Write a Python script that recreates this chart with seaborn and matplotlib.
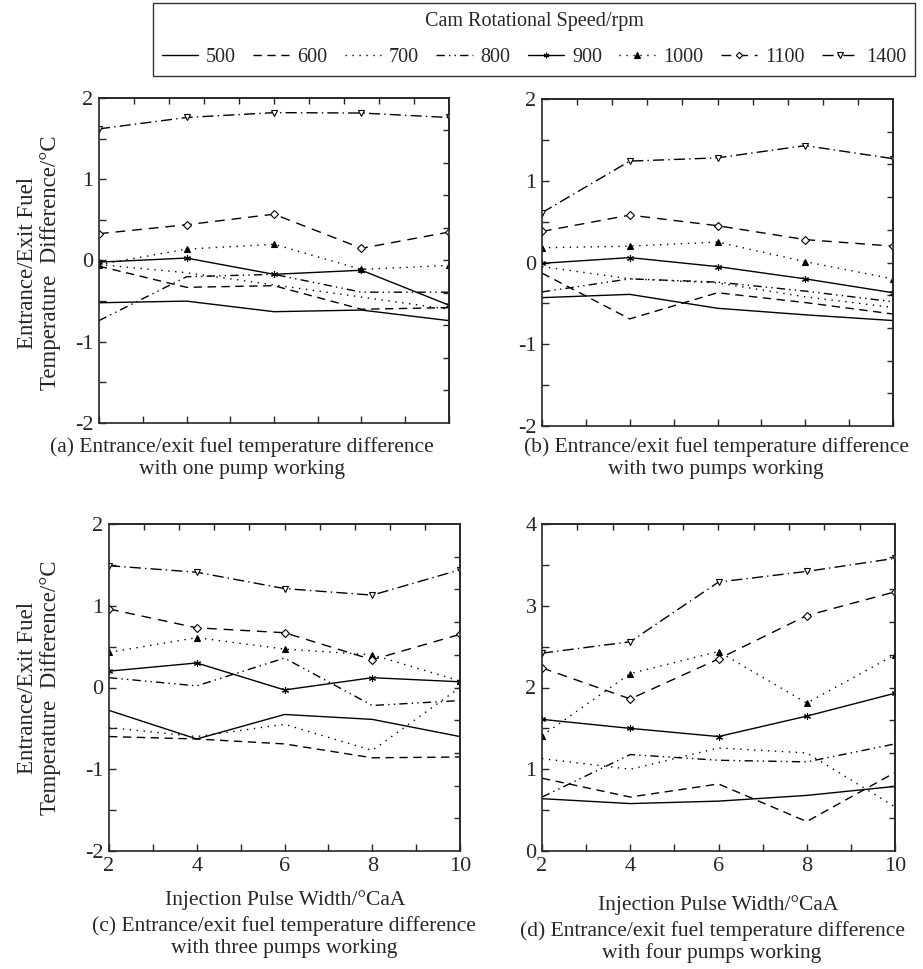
import numpy as np
import pandas as pd
import matplotlib
matplotlib.use("Agg")
import matplotlib.pyplot as plt
from matplotlib.ticker import FixedLocator, NullFormatter
import seaborn as sns

sns.set_style("ticks")
plt.rcParams["font.family"] = ["Liberation Serif", "DejaVu Serif"]
plt.rcParams["axes.unicode_minus"] = False

# ---------------- data ----------------
pulse_width = [2, 4, 6, 8, 10]
speeds = ["500", "600", "700", "800", "900", "1000", "1100", "1400"]

one_pump = {
    "500":  [-0.52, -0.50, -0.63, -0.61, -0.74],
    "600":  [-0.07, -0.33, -0.31, -0.60, -0.58],
    "700":  [-0.05, -0.15, -0.30, -0.45, -0.60],
    "800":  [-0.74, -0.20, -0.17, -0.39, -0.39],
    "900":  [-0.02, 0.03, -0.17, -0.12, -0.55],
    "1000": [-0.05, 0.14, 0.20, -0.11, -0.06],
    "1100": [0.33, 0.44, 0.57, 0.15, 0.35],
    "1400": [1.62, 1.76, 1.82, 1.815, 1.76],
}
two_pumps = {
    "500":  [-0.43, -0.39, -0.56, -0.64, -0.71],
    "600":  [-0.13, -0.69, -0.37, -0.49, -0.63],
    "700":  [-0.05, -0.20, -0.25, -0.42, -0.55],
    "800":  [-0.36, -0.20, -0.24, -0.35, -0.48],
    "900":  [-0.01, 0.06, -0.05, -0.20, -0.37],
    "1000": [0.18, 0.20, 0.25, 0.01, -0.20],
    "1100": [0.38, 0.58, 0.45, 0.28, 0.20],
    "1400": [0.61, 1.24, 1.28, 1.43, 1.27],
}
three_pumps = {
    "500":  [-0.28, -0.63, -0.33, -0.39, -0.60],
    "600":  [-0.60, -0.63, -0.69, -0.86, -0.85],
    "700":  [-0.49, -0.60, -0.45, -0.77, 0.00],
    "800":  [0.12, 0.02, 0.36, -0.22, -0.16],
    "900":  [0.20, 0.30, -0.03, 0.12, 0.07],
    "1000": [0.43, 0.61, 0.47, 0.40, 0.08],
    "1100": [0.96, 0.73, 0.67, 0.34, 0.65],
    "1400": [1.49, 1.41, 1.21, 1.13, 1.44],
}
four_pumps = {
    "500":  [0.64, 0.58, 0.61, 0.68, 0.79],
    "600":  [0.89, 0.66, 0.82, 0.36, 0.96],
    "700":  [1.13, 1.00, 1.26, 1.20, 0.54],
    "800":  [0.66, 1.18, 1.11, 1.09, 1.31],
    "900":  [1.61, 1.50, 1.40, 1.65, 1.93],
    "1000": [1.41, 2.17, 2.44, 1.81, 2.40],
    "1100": [2.24, 1.86, 2.35, 2.88, 3.17],
    "1400": [2.42, 2.56, 3.29, 3.42, 3.58],
}

captions = [
    "(a) Entrance/exit fuel temperature difference\nwith one pump working",
    "(b) Entrance/exit fuel temperature difference\nwith two pumps working",
    "(c) Entrance/exit fuel temperature difference\nwith three pumps working",
    "(d) Entrance/exit fuel temperature difference\nwith four pumps working",
]
ylabel_text = "Entrance/Exit Fuel\nTemperature  Difference/\u00b0C"
xlabel_text = "Injection Pulse Width/\u00b0CaA"
legend_title = "Cam Rotational Speed/rpm"

# ---------------- styles ----------------
styles = {
    "500":  dict(linestyle="-", marker=None),
    "600":  dict(linestyle=(0, (6, 4)), marker=None),
    "700":  dict(linestyle=(0, (1, 4)), marker=None),
    "800":  dict(linestyle=(0, (6, 3, 1, 3, 1, 3)), marker=None),
    "900":  dict(linestyle="-", marker=(6, 2, 0), ms=5, mfc="k"),
    "1000": dict(linestyle=(0, (1, 4)), marker="^", ms=5, mfc="k"),
    "1100": dict(linestyle=(0, (7, 5)), marker="D", ms=4, mfc="white"),
    "1400": dict(linestyle=(0, (8, 3, 1, 3)), marker="v", ms=5, mfc="white"),
}

W, H = 923, 969
fig = plt.figure(figsize=(W / 100, H / 100), dpi=100)


def ax_at(left, top, right, bottom):
    return fig.add_axes([left / W, 1 - bottom / H, (right - left) / W, (bottom - top) / H])


panels = [
    (ax_at(99, 98, 449, 423), one_pump, (-2, 2), False),
    (ax_at(542, 99, 893, 426), two_pumps, (-2, 2), False),
    (ax_at(109, 524, 460, 851), three_pumps, (-2, 2), True),
    (ax_at(542, 524, 895, 851), four_pumps, (0, 4), True),
]

for ax, data, ylim, show_x in panels:
    for sp in speeds:
        st = dict(styles[sp])
        kw = dict(color="k", lw=1.0, linestyle=st["linestyle"], label=sp)
        if st["marker"] is not None:
            kw.update(marker=st["marker"], ms=st["ms"], mfc=st["mfc"],
                      mec="k", mew=0.8)
        sns.lineplot(x=pulse_width, y=data[sp], ax=ax, legend=False, **kw)
    ax.set_xlim(2, 10)
    ax.set_ylim(*ylim)
    ax.set_xticks([2, 4, 6, 8, 10])
    ax.xaxis.set_minor_locator(FixedLocator([3, 5, 7, 9]))
    ax.set_yticks(np.arange(ylim[0], ylim[1] + 0.01, 1))
    ax.yaxis.set_minor_locator(FixedLocator(np.arange(ylim[0] + 0.5, ylim[1], 1)))
    ax.tick_params(which="both", direction="in", length=5, width=1,
                   labelsize=16, pad=4)
    if not show_x:
        ax.tick_params(axis="x", labelbottom=False)
    for s in ax.spines.values():
        s.set_visible(True)
        s.set_linewidth(1.2)
    ax.set_xlabel("")
    ax.set_ylabel("")
    top = ax.secondary_xaxis("top")
    top.set_xticks(np.linspace(2, 10, 11)[1:-1])
    top.xaxis.set_major_formatter(NullFormatter())
    top.tick_params(direction="in", length=4, width=1)
    right = ax.secondary_yaxis("right")
    right.set_yticks(np.linspace(ylim[0], ylim[1], 11)[1:-1])
    right.yaxis.set_major_formatter(NullFormatter())
    right.tick_params(direction="in", length=4, width=1)
    for s in list(top.spines.values()) + list(right.spines.values()):
        s.set_linewidth(1.2)

for ycen in (263, 688):
    fig.text(39 / W, 1 - ycen / H, ylabel_text, rotation=90, ha="center",
             va="center", multialignment="center", fontsize=16.5, linespacing=1.1)

fig.text(285 / W, 1 - 900 / H, xlabel_text, ha="center", va="center", fontsize=15.5)
fig.text(718 / W, 1 - 905 / H, xlabel_text, ha="center", va="center", fontsize=15.5)

cap_pos = [(242, 458), (716, 458), (284, 937), (712, 942)]
for (cx, cy), cap in zip(cap_pos, captions):
    fig.text(cx / W, 1 - cy / H, cap, ha="center", va="center",
             multialignment="center", fontsize=15.5, linespacing=1.15)

handles = panels[0][0].get_lines()[:len(speeds)]
leg = fig.legend(handles, speeds, loc="upper center",
                 bbox_to_anchor=(534 / W, 1 - 3 / H), ncol=8,
                 title=legend_title, title_fontsize=14.5, fontsize=14.5,
                 frameon=True, fancybox=False, edgecolor="k",
                 handlelength=1.8, handletextpad=0.4, columnspacing=0.85,
                 borderpad=0.45, borderaxespad=0, markerscale=0.8)
leg.get_frame().set_linewidth(1.0)
leg._legend_box.sep = 12

fig.savefig("out.png", dpi=100)
